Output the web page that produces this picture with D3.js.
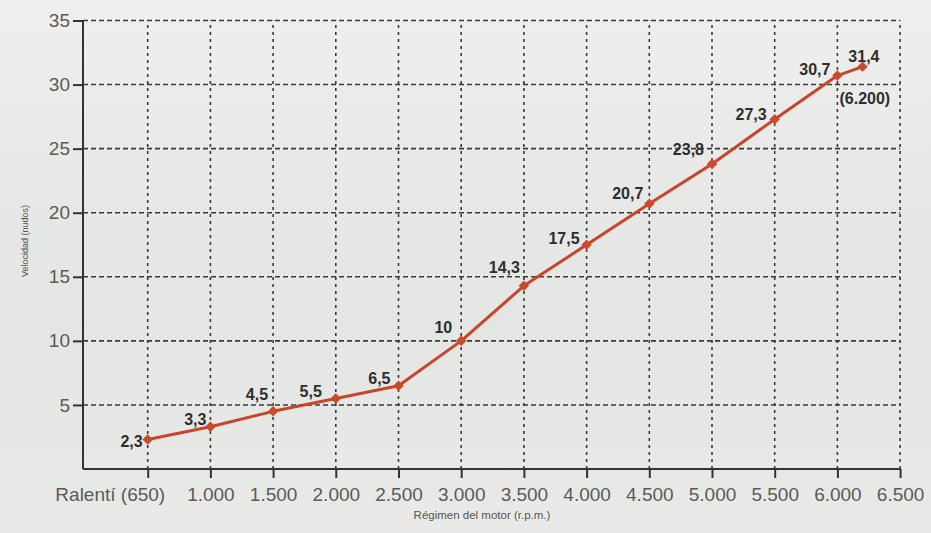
<!DOCTYPE html>
<html>
    <head>
        <meta charset="utf-8">
        <style>
         body {
             margin: 0;
             background-color: #e9eae7;
         }
         svg text {
             font-family: "Liberation Sans", Arial, sans-serif;
         }
         .grid line {
             stroke: #3a3a3a;
             stroke-width: 1.6;
         }
         .axis path, .axis line {
             stroke: #333;
             stroke-width: 2;
         }
         .axis text {
             fill: #5a5a5a;
             font-size: 19px;
         }
         .value-label {
             fill: #2e2e2e;
             font-size: 16px;
             font-weight: bold;
         }
         .title {
             fill: #555;
             font-size: 10px;
         }
        </style>
        <script src="https://d3js.org/d3.v7.min.js"></script>
    </head>
    <body>
        <svg id="chart" width="931" height="533"></svg>
        <script>
         // rpm (idle = 650 rpm, drawn on the first tick)
         var rpm = [650, 1000, 1500, 2000, 2500, 3000, 3500, 4000, 4500, 5000, 5500, 6000, 6200];
         var knots = [2.3, 3.3, 4.5, 5.5, 6.5, 10, 14.3, 17.5, 20.7, 23.8, 27.3, 30.7, 31.4];
         var xTicks = [650, 1000, 1500, 2000, 2500, 3000, 3500, 4000, 4500, 5000, 5500, 6000, 6500];
         var yTicks = [5, 10, 15, 20, 25, 30, 35];

         // label offsets (dx, dy from the point, text-anchor end)
         var labelOffsets = [[-5, 7], [-4, -2], [-5, -11], [-14, -2], [-8, -2], [-9, -8], [-4, -13],
                             [-7, -1], [-6, -5], [-8, -9], [-8, 1], [-7, -1], [17, -5]];

         var svg = d3.select("#chart");

         // faded photo background
         var defs = svg.append("defs");
         var grad = defs.append("linearGradient").attr("id", "bg")
                        .attr("x1", 0).attr("y1", 0).attr("x2", 0).attr("y2", 1);
         grad.append("stop").attr("offset", "0%").attr("stop-color", "#eff0ed");
         grad.append("stop").attr("offset", "35%").attr("stop-color", "#e8e9e6");
         grad.append("stop").attr("offset", "60%").attr("stop-color", "#e4e6e3");
         grad.append("stop").attr("offset", "100%").attr("stop-color", "#e9eae7");
         svg.append("rect").attr("width", 931).attr("height", 533).attr("fill", "url(#bg)");

         var x0 = 85, step = 62.7;
         var x = d3.scaleLinear()
                   .domain([0, 650, 1000, 6500])
                   .range([x0, x0 + step, x0 + 2 * step, x0 + 13 * step]);
         var y = d3.scaleLinear().domain([0, 35]).range([469, 20.5]);

         var axisX = 83;
         var plotRight = x(6500), plotTop = y(35), plotBottom = y(0);

         // dashed grid
         var grid = svg.append("g").attr("class", "grid");
         grid.selectAll(".h").data(yTicks).enter().append("line")
             .attr("x1", axisX).attr("x2", plotRight)
             .attr("y1", function(d) { return y(d); })
             .attr("y2", function(d) { return y(d); })
             .attr("stroke-dasharray", "5,3");
         grid.selectAll(".v").data(xTicks).enter().append("line")
             .attr("x1", function(d) { return x(d); })
             .attr("x2", function(d) { return x(d); })
             .attr("y1", plotBottom).attr("y2", plotTop)
             .attr("stroke-dasharray", "3,4");

         // axes
         var gx = svg.append("g").attr("class", "axis")
                     .attr("transform", "translate(0," + plotBottom + ")")
                     .call(d3.axisBottom(x).tickValues(xTicks).tickSize(9).tickSizeOuter(0)
                           .tickFormat(function(d) {
                               return d === 650 ? "Ralentí (650)" : d3.format(",")(d).replace(/,/g, ".");
                           }));
         gx.select(".domain").attr("d", "M" + axisX + ",0H" + plotRight);
         gx.selectAll(".tick text").attr("dy", "1.05em");
         gx.selectAll(".tick").filter(function(d) { return d === 650; })
           .select("text").attr("text-anchor", "end").attr("x", 17);

         var gy = svg.append("g").attr("class", "axis")
                     .attr("transform", "translate(" + axisX + ",0)")
                     .call(d3.axisLeft(y).tickValues(yTicks).tickSize(10).tickSizeOuter(0));
         gy.select(".domain").attr("d", "M0," + plotTop + "V" + plotBottom);
         gy.selectAll(".tick text").attr("x", -13);

         // titles
         svg.append("text").attr("class", "title")
            .attr("x", 482).attr("y", 519).attr("text-anchor", "middle")
            .style("font-size", "11.5px")
            .text("Régimen del motor (r.p.m.)");
         svg.append("text").attr("class", "title")
            .attr("transform", "translate(28,241) rotate(-90)")
            .attr("text-anchor", "middle")
            .style("font-size", "9px")
            .text("Velocidad (nudos)");

         // series
         var pts = rpm.map(function(r, i) { return {rpm: r, v: knots[i], off: labelOffsets[i]}; });
         function px(d) { return x(d.rpm); }
         var line = d3.line().x(px).y(function(d) { return y(d.v); });

         svg.append("path").datum(pts)
            .attr("d", line)
            .attr("fill", "none")
            .attr("stroke", "#c8452c")
            .attr("stroke-width", 3)
            .attr("stroke-linejoin", "round");

         svg.selectAll(".pt").data(pts).enter().append("path")
            .attr("d", d3.symbol().type(d3.symbolDiamond2).size(70))
            .attr("transform", function(d) { return "translate(" + px(d) + "," + y(d.v) + ")"; })
            .attr("fill", "#cc4a2c");

         svg.selectAll(".value-label").data(pts).enter().append("text")
            .attr("class", "value-label")
            .attr("text-anchor", "end")
            .attr("x", function(d) { return px(d) + d.off[0]; })
            .attr("y", function(d) { return y(d.v) + d.off[1]; })
            .text(function(d) { return String(d.v).replace(".", ","); });

         var last = pts[pts.length - 1];
         svg.append("text").attr("class", "value-label")
            .attr("x", px(last) - 23).attr("y", y(last.v) + 37)
            .text("(" + d3.format(",")(last.rpm).replace(/,/g, ".") + ")");
        </script>
    </body>
</html>
